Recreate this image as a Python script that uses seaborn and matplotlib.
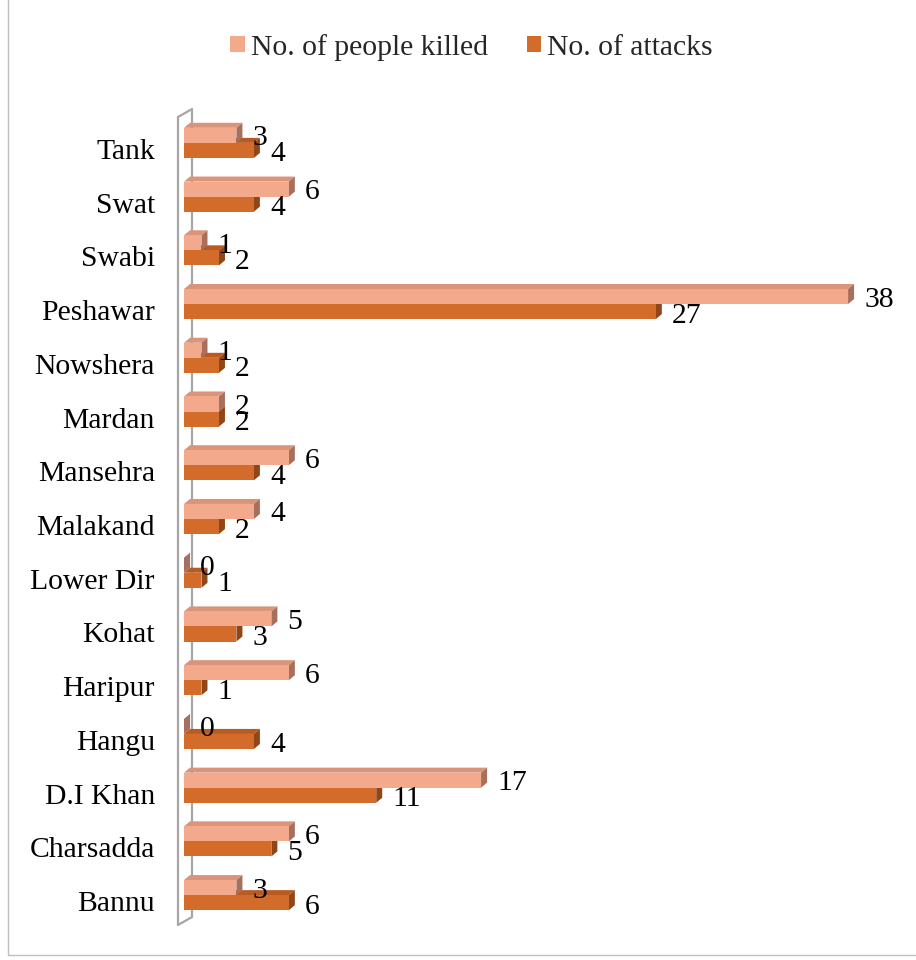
import matplotlib
matplotlib.use('Agg')
import matplotlib.pyplot as plt
import matplotlib.transforms as mtransforms
import seaborn as sns
import pandas as pd
from matplotlib.patches import Polygon, Rectangle, Patch
from matplotlib.lines import Line2D

districts = ['Tank', 'Swat', 'Swabi', 'Peshawar', 'Nowshera', 'Mardan', 'Mansehra',
             'Malakand', 'Lower Dir', 'Kohat', 'Haripur', 'Hangu', 'D.I Khan',
             'Charsadda', 'Bannu']
killed = [3, 6, 1, 38, 1, 2, 6, 4, 0, 5, 6, 0, 17, 6, 3]
attacks = [4, 4, 2, 27, 2, 2, 4, 2, 1, 3, 1, 4, 11, 5, 6]
series = ['No. of people killed', 'No. of attacks']
colors = ['#F3A98B', '#D36C2B']
top_colors = ['#D9947A', '#B85A22']
side_colors = ['#A8705C', '#8F4719']

df = pd.DataFrame({
    'District': districts * 2,
    'Value': killed + attacks,
    'Series': [series[0]] * len(districts) + [series[1]] * len(districts),
})

sns.set_theme(style='white')
plt.rcParams['font.family'] = ['Liberation Serif', 'DejaVu Serif']

FS = 21.3
W, H = 916, 960
fig = plt.figure(figsize=(W / 100, H / 100), dpi=100)
ax_l, ax_b, ax_w, ax_h = 184 / W, 38 / H, 699 / W, 806 / H
ax = fig.add_axes([ax_l, ax_b, ax_w, ax_h])
ax.patch.set_visible(False)

sns.barplot(data=df, y='District', x='Value', hue='Series', hue_order=series,
            order=districts, palette=colors, width=0.56, orient='h', ax=ax,
            saturation=1, edgecolor='none', legend=False, errorbar=None)

xmax = 40
ax.set_xlim(0, xmax)
ax.set_ylim(len(districts) - 0.5, -0.5)
for s in ax.spines.values():
    s.set_visible(False)
ax.set_xticks([])
ax.set_xlabel('')
ax.set_ylabel('')
ax.tick_params(axis='y', length=0, pad=21, labelsize=FS, labelcolor='black')
shift = mtransforms.ScaledTranslation(0, -6 / 100, fig.dpi_scale_trans)
for lab in ax.get_yticklabels():
    lab.set_transform(lab.get_transform() + shift)

# 3D-like faces
ux = xmax / 699.0
uy = len(districts) / 806.0
dx, dy = 6 * ux, 5 * uy
for i, cont in enumerate(ax.containers):
    z = 3 if i == 0 else 1
    for p in cont.patches:
        x0, y0, w, h = p.get_x(), p.get_y(), p.get_width(), p.get_height()
        p.set_zorder(z + 0.5)
        top = Polygon([(x0, y0), (x0 + dx, y0 - dy), (w + dx, y0 - dy), (w, y0)],
                      closed=True, facecolor=top_colors[i], edgecolor='none', zorder=z)
        side = Polygon([(w, y0), (w + dx, y0 - dy), (w + dx, y0 + h - dy), (w, y0 + h)],
                       closed=True, facecolor=side_colors[i], edgecolor='none', zorder=z)
        ax.add_patch(top)
        ax.add_patch(side)

# value labels
for i, cont in enumerate(ax.containers):
    vals = killed if i == 0 else attacks
    for p, v in zip(cont.patches, vals):
        yc = p.get_y() + p.get_height() / 2
        off_y = 3 * uy if i == 0 else 4 * uy
        ax.text(p.get_width() + 16 * ux, yc + off_y, str(v), ha='left', va='center',
                fontsize=FS, color='black', zorder=5)

# wall lines (figure pixel coords)
def fx(px):
    return px / W

def fy(py):
    return 1 - py / H

wall = dict(color='#A6A6A6', linewidth=1.6, zorder=-1, transform=fig.transFigure)
fig.add_artist(Line2D([fx(178), fx(178), fx(192)], [fy(117), fy(925), fy(917)], **wall))
fig.add_artist(Line2D([fx(178), fx(192), fx(192)], [fy(117), fy(109), fy(917)], **wall))

# outer border
fig.add_artist(Rectangle((fx(8), fy(955)), 2, 2, transform=fig.transFigure,
                         fill=False, edgecolor='#BFBFBF', linewidth=1.0, zorder=-2))

handles = [Patch(facecolor=c, edgecolor='none') for c in colors]
fig.legend(handles, series, loc='center', bbox_to_anchor=(0.515, 0.951), ncol=2,
           frameon=False, fontsize=FS, handlelength=0.5, handleheight=0.5,
           handletextpad=0.2, columnspacing=1.3)

fig.savefig('out.png', dpi=100)
